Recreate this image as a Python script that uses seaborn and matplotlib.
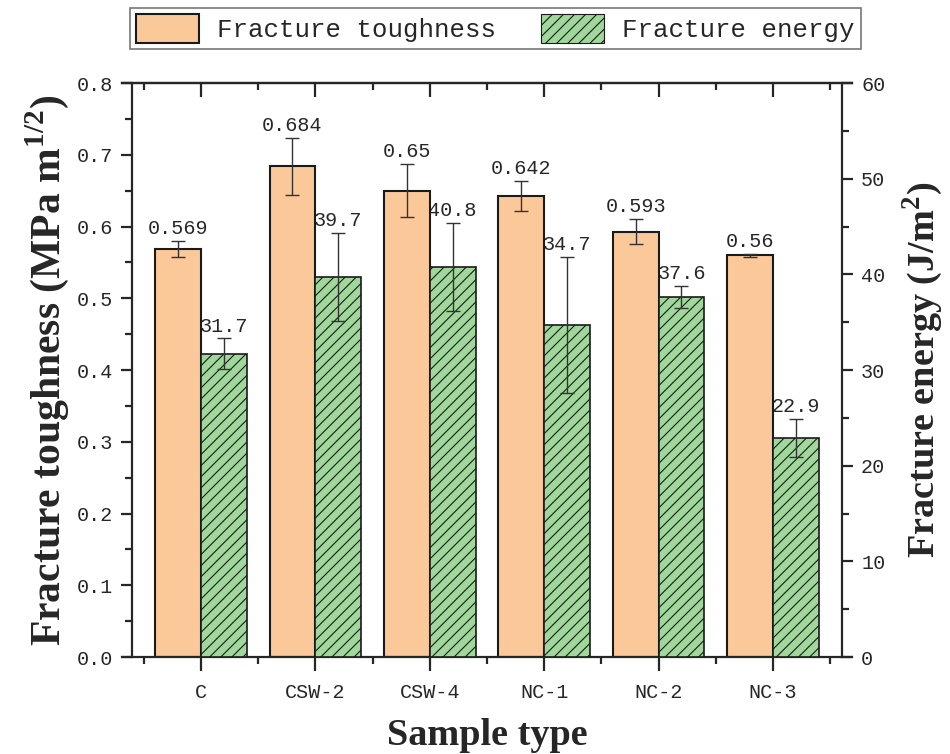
import numpy as np
import pandas as pd
import matplotlib
matplotlib.use('Agg')
import matplotlib.pyplot as plt
import seaborn as sns
from matplotlib.ticker import MultipleLocator, FormatStrFormatter, FixedLocator
from matplotlib.patches import Patch

# ── Data ─────────────────────────────
SAMPLES = ['C', 'CSW-2', 'CSW-4', 'NC-1', 'NC-2', 'NC-3']
toughness = [0.569, 0.684, 0.65, 0.642, 0.593, 0.56]
toughness_err = [0.011, 0.040, 0.037, 0.021, 0.018, 0.002]
energy = [31.7, 39.7, 40.8, 34.7, 37.6, 22.9]
energy_err = [1.6, 4.6, 4.6, 7.1, 1.15, 2.0]
SERIES = ['Fracture toughness', 'Fracture energy']

ORANGE = '#FBC899'
GREEN = '#A0D89B'

sns.set_style('ticks')
plt.rcParams['font.family'] = ['Liberation Mono', 'DejaVu Sans Mono']
plt.rcParams['mathtext.fontset'] = 'custom'
plt.rcParams['mathtext.rm'] = 'Liberation Serif:bold'
plt.rcParams['mathtext.bf'] = 'Liberation Serif:bold'
plt.rcParams['hatch.linewidth'] = 0.8
plt.rcParams['hatch.color'] = '#1a1a1a'

# long tables, the other series left empty so hue dodge is kept
df_t = pd.DataFrame({'sample': SAMPLES * 2,
                     'series': [SERIES[0]] * 6 + [SERIES[1]] * 6,
                     'value': toughness + [np.nan] * 6})
df_e = pd.DataFrame({'sample': SAMPLES * 2,
                     'series': [SERIES[0]] * 6 + [SERIES[1]] * 6,
                     'value': [np.nan] * 6 + energy})

fig = plt.figure(figsize=(9.5, 7.54), dpi=100)
ax = fig.add_axes([0.1284, 0.1286, 0.7684, 0.7613])
ax2 = ax.twinx()

sns.barplot(data=df_t, x='sample', y='value', hue='series',
            hue_order=SERIES, order=SAMPLES, palette=[ORANGE, GREEN],
            errorbar=None, width=0.8, saturation=1, legend=False,
            edgecolor='#1a1a1a', linewidth=1.5, ax=ax)
sns.barplot(data=df_e, x='sample', y='value', hue='series',
            hue_order=SERIES, order=SAMPLES, palette=[ORANGE, GREEN],
            errorbar=None, width=0.8, saturation=1, legend=False,
            edgecolor='#1a1a1a', linewidth=1.2, hatch='///', ax=ax2)

t_bars = [p for p in ax.patches if np.isfinite(p.get_height()) and p.get_height() > 0]
e_bars = [p for p in ax2.patches if np.isfinite(p.get_height()) and p.get_height() > 0]
t_bars.sort(key=lambda p: p.get_x())
e_bars.sort(key=lambda p: p.get_x())
for p in e_bars:
    p.set_hatch('///')

tx = [p.get_x() + p.get_width() / 2 for p in t_bars]
ex = [p.get_x() + p.get_width() / 2 for p in e_bars]

ax.errorbar(tx, toughness, yerr=toughness_err, fmt='none',
            ecolor='#333333', elinewidth=1, capsize=5, capthick=1, zorder=4)
ax2.errorbar(ex, energy, yerr=energy_err, fmt='none',
             ecolor='#333333', elinewidth=1, capsize=5, capthick=1, zorder=4)

for x, v, e in zip(tx, toughness, toughness_err):
    ax.text(x, v + e + 0.004, f'{v:g}', ha='center', va='bottom',
            fontsize=14.5, zorder=5)
for x, v, e in zip(ex, energy, energy_err):
    ax.text(x, v + e + 0.3, f'{v:g}', ha='center', va='bottom',
            fontsize=14.5, zorder=0.5, transform=ax2.transData)

# ── Axes ─────────────────────────────
ax.set_xlim(-0.69, 5.69)
ax.set_ylim(0, 0.8)
ax2.set_ylim(0, 60)

ax.spines['left'].set_position(('data', -0.6))
ax2.spines['right'].set_position(('data', 5.6))
ax.spines['right'].set_visible(False)
for s in ['left', 'top', 'bottom']:
    ax2.spines[s].set_visible(False)
for s in ['left', 'top', 'bottom']:
    ax.spines[s].set_linewidth(1.6)
ax2.spines['right'].set_linewidth(1.6)

ax.yaxis.set_major_locator(MultipleLocator(0.1))
ax.yaxis.set_minor_locator(MultipleLocator(0.05))
ax.yaxis.set_major_formatter(FormatStrFormatter('%.1f'))
ax2.yaxis.set_major_locator(MultipleLocator(10))
ax2.yaxis.set_minor_locator(MultipleLocator(5))

ax.set_xticks(range(len(SAMPLES)))
ax.set_xticklabels(SAMPLES)
ax.xaxis.set_minor_locator(FixedLocator(np.arange(-0.5, 6, 1.0)))

ax.tick_params(axis='x', which='major', direction='out', length=10, width=1.6,
               labelsize=14.5, pad=9)
ax.tick_params(axis='x', which='minor', direction='out', length=5, width=1.6)
ax.tick_params(axis='y', which='major', direction='out', length=8, width=1.6,
               labelsize=14.5, pad=6)
ax.tick_params(axis='y', which='minor', direction='out', length=5, width=1.6)
ax2.tick_params(axis='y', which='major', direction='out', length=8, width=1.6,
                labelsize=14.5, pad=6)
ax2.tick_params(axis='y', which='minor', direction='out', length=5, width=1.6)

top = ax.secondary_xaxis('top')
top.set_xticks(range(len(SAMPLES)))
top.set_xticklabels([])
top.xaxis.set_minor_locator(FixedLocator(np.arange(-0.5, 6, 1.0)))
top.tick_params(axis='x', which='major', direction='in', length=10, width=1.6)
top.tick_params(axis='x', which='minor', direction='in', length=5, width=1.6)
top.spines['top'].set_linewidth(1.6)

ax.set_xlabel('Sample type', family='Liberation Serif', fontweight='bold',
              fontsize=27.5, labelpad=11)
ax.set_ylabel('Fracture toughness (MPa m$^{\\mathbf{1/2}}$)',
              family='Liberation Serif', fontweight='bold', fontsize=30,
              labelpad=4)
ax2.set_ylabel('Fracture energy (J/m$^{\\mathbf{2}}$)',
               family='Liberation Serif', fontweight='bold', fontsize=27.5,
               labelpad=11)

# ── Legend ───────────────────────────
handles = [Patch(facecolor=ORANGE, edgecolor='#1a1a1a', linewidth=1.5),
           Patch(facecolor=GREEN, edgecolor='#1a1a1a', linewidth=0.8, hatch='///')]
fig.legend(handles, SERIES, loc='upper center', bbox_to_anchor=(0.5216, 0.99),
           ncol=2, fontsize=18.5, frameon=True, fancybox=False,
           edgecolor='#555555', handlelength=2.45, handleheight=1.35,
           handletextpad=0.7, columnspacing=1.75, borderpad=0.25,
           borderaxespad=0.0)
fig.legends[0].get_frame().set_linewidth(1.2)

fig.savefig('out.png', dpi=100, facecolor='white')
